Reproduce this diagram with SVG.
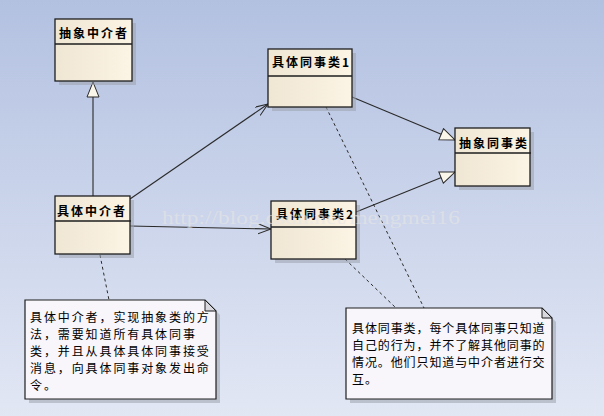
<svg xmlns="http://www.w3.org/2000/svg" width="604" height="416" viewBox="0 0 604 416">
<defs>
<linearGradient id="bg" x1="0" y1="0" x2="0" y2="1">
<stop offset="0" stop-color="#b3c1e1"/>
<stop offset="1" stop-color="#e2e7f4"/>
</linearGradient>
<linearGradient id="boxfill" x1="0" y1="0" x2="1" y2="0">
<stop offset="0" stop-color="#efe6d4"/>
<stop offset="1" stop-color="#fcf4e4"/>
</linearGradient>
<marker id="open" markerUnits="userSpaceOnUse" markerWidth="16" markerHeight="12" refX="13" refY="5" orient="auto" viewBox="0 0 16 12">
<path d="M0,0 L13,5 L0,10" fill="none" stroke="#2a2a2a" stroke-width="1"/>
</marker>
<marker id="tri" markerUnits="userSpaceOnUse" markerWidth="18" markerHeight="14" refX="16" refY="7" orient="auto" viewBox="0 0 18 14">
<path d="M1,1 L16,7 L1,13 Z" fill="#fbf6ea" stroke="#2a2a2a" stroke-width="1"/>
</marker>
</defs>
<style>
.shadow{fill:#9da3ad;opacity:0.55}
.box{fill:url(#boxfill);stroke:#1e1e1e;stroke-width:1.3}
.div{stroke:#1e1e1e;stroke-width:1.3}
.title{font-family:"Noto Sans CJK SC","Noto Sans",sans-serif;font-size:12px;font-weight:bold;fill:#000;letter-spacing:2px}
.note{fill:#f8f6fb;stroke:#1e1e1e;stroke-width:1.2}
.fold{fill:#d8d8de;stroke:#1e1e1e;stroke-width:1}
.ntext{font-family:"Noto Sans CJK SC","Noto Sans",sans-serif;font-size:12px;fill:#000}
.line{fill:none;stroke:#2a2a2a;stroke-width:1.1}
.dash{fill:none;stroke:#2a2a2a;stroke-width:1;stroke-dasharray:3,3}
.wm{font-family:"Liberation Serif",serif;font-size:19px;fill:#e6e6e6;opacity:0.6}
</style>
<rect x="0" y="0" width="604" height="416" fill="url(#bg)"/>

<g id="connectors">
<path class="line" d="M93,196 V82" marker-end="url(#tri)"/>
<path class="line" d="M130,199 L268,104" marker-end="url(#open)"/>
<path class="line" d="M130,226 L271,229" marker-end="url(#open)"/>
<path class="line" d="M352,97 L455,140" marker-end="url(#tri)"/>
<path class="line" d="M356,212 L455,172" marker-end="url(#tri)"/>
<path class="dash" d="M100,255 L109,300"/>
<path class="dash" d="M326,107 L424,308"/>
<path class="dash" d="M345,259 L396,308"/>
</g>

<g id="abstract-mediator">
<rect class="shadow" x="59" y="23" width="77" height="62"/>
<rect class="box" x="55" y="19" width="77" height="62"/>
<line class="div" x1="55" y1="44" x2="132" y2="44"/>
<text class="title" x="59" y="38">抽象中介者</text>
</g>

<g id="concrete-mediator">
<rect class="shadow" x="59" y="200" width="75" height="58"/>
<rect class="box" x="55" y="196" width="75" height="58"/>
<line class="div" x1="55" y1="221" x2="131" y2="221"/>
<text class="title" x="57" y="216">具体中介者</text>
</g>

<g id="colleague1">
<rect class="shadow" x="272" y="53" width="84" height="58"/>
<rect class="box" x="268" y="49" width="84" height="58"/>
<line class="div" x1="268" y1="76" x2="352" y2="76"/>
<text class="title" x="272" y="67">具体同事类1</text>
</g>

<g id="colleague2">
<rect class="shadow" x="275" y="205" width="85" height="58"/>
<rect class="box" x="271" y="201" width="85" height="58"/>
<line class="div" x1="271" y1="227" x2="356" y2="227"/>
<text class="title" x="276" y="219">具体同事类2</text>
</g>

<g id="abstract-colleague">
<rect class="shadow" x="459" y="132" width="75" height="58"/>
<rect class="box" x="455" y="128" width="75" height="58"/>
<line class="div" x1="455" y1="153" x2="531" y2="153"/>
<text class="title" x="459" y="148">抽象同事类</text>
</g>

<g id="note-mediator">
<path class="shadow" d="M29,304 H209 L220,315 V403 H29 Z"/>
<path class="note" d="M25,300 H205 L216,311 V399 H25 Z"/>
<path class="fold" d="M205,300 L205,311 L216,311 Z"/>
<text class="ntext" letter-spacing="1.9">
<tspan x="30" y="322">具体中介者，实现抽象类的方</tspan>
<tspan x="30" y="339">法，需要知道所有具体同事</tspan>
<tspan x="30" y="356">类，并且从具体具体同事接受</tspan>
<tspan x="30" y="373">消息，向具体同事对象发出命</tspan>
<tspan x="30" y="390">令。</tspan>
</text>
</g>

<g id="note-colleague">
<path class="shadow" d="M350,312 H546 L556,322 V403 H350 Z"/>
<path class="note" d="M346,308 H542 L552,318 V399 H346 Z"/>
<path class="fold" d="M542,308 L542,318 L552,318 Z"/>
<text class="ntext" letter-spacing="0.9">
<tspan x="352" y="333">具体同事类，每个具体同事只知道</tspan>
<tspan x="352" y="350">自己的行为，并不了解其他同事的</tspan>
<tspan x="352" y="367">情况。他们只知道与中介者进行交</tspan>
<tspan x="352" y="384">互。</tspan>
</text>
</g>

<text class="wm" x="162" y="224" textLength="298" lengthAdjust="spacingAndGlyphs">http://blog.csdn.net/mengmei16</text>
</svg>
